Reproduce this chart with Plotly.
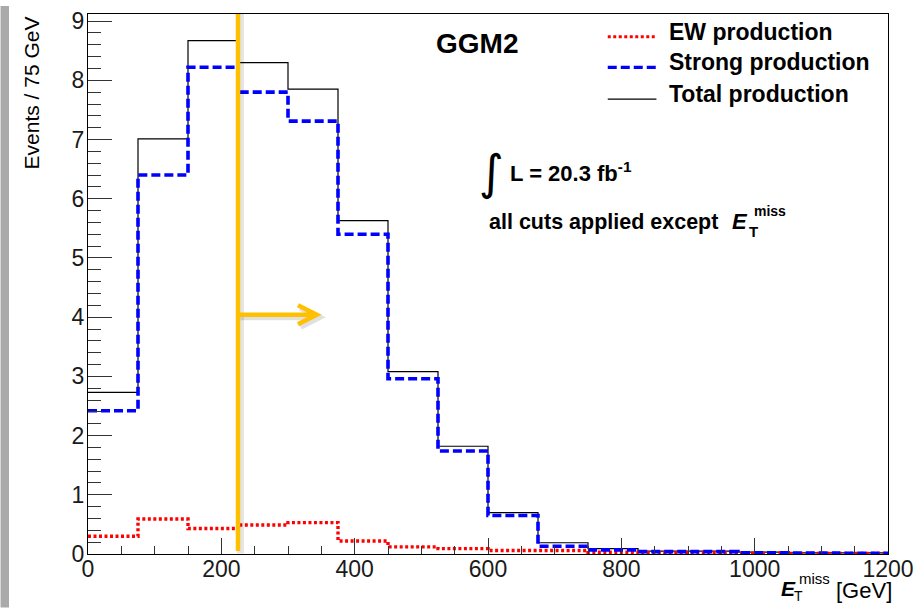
import plotly.graph_objects as go

# Histogram binning: 75 GeV bins from 0 to 1200 GeV
bin_edges = [0, 75, 150, 225, 300, 375, 450, 525, 600, 675, 750, 825, 900, 975, 1050, 1125, 1200]

# Expected events per bin (GGM2 signal point)
ew_production = [0.30, 0.59, 0.43, 0.49, 0.53, 0.22, 0.12, 0.09, 0.06, 0.06, 0.03, 0.02, 0.02, 0.015, 0.01, 0.01]
strong_production = [2.42, 6.40, 8.22, 7.80, 7.31, 5.40, 2.96, 1.74, 0.65, 0.13, 0.07, 0.04, 0.04, 0.02, 0.015, 0.01]
total_production = [2.73, 7.01, 8.67, 8.30, 7.85, 5.63, 3.08, 1.82, 0.70, 0.19, 0.09, 0.05, 0.05, 0.03, 0.02, 0.02]

x_ticks = [0, 200, 400, 600, 800, 1000, 1200]
y_ticks = [0, 1, 2, 3, 4, 5, 6, 7, 8, 9]

# E_T^miss cut position and arrow end (GeV), arrow height (events)
cut_value = 225
arrow_end = 343
arrow_level = 4.04

FONT = "Liberation Sans, Arial, Helvetica, sans-serif"

# Plot-area geometry in pixels (922 x 608 canvas)
W, H = 922, 608
L, R, T, B = 88, 893, 8, 554


def px_x(p):
    return (p - L) / (R - L)


def px_y(p):
    return (B - p) / (B - T)


def steps(values):
    return bin_edges, list(values) + [values[-1]]


fig = go.Figure()

for name, vals, color, width, dash in [
    ("Total production", total_production, "black", 1.2, "solid"),
    ("EW production", ew_production, "#ff0000", 3.4, "3px,2.5px"),
    ("Strong production", strong_production, "#0000ff", 3.6, "9px,4px"),
]:
    xs, ys = steps(vals)
    fig.add_trace(go.Scatter(
        x=xs, y=ys, mode="lines", name=name,
        line=dict(color=color, width=width, dash=dash, shape="hv"),
        showlegend=False, hoverinfo="skip",
    ))

shapes = []

# grey strip along the left edge of the canvas
shapes.append(dict(type="rect", xref="paper", yref="paper",
                   x0=px_x(0), x1=px_x(8.5), y0=px_y(H), y1=px_y(0),
                   fillcolor="#aaaaaa", line=dict(width=0), layer="above"))

# soft shadow of the cut marker
sh_dx = 2.5 * 1200 / (R - L)
sh_dy = 2.5 * 9.12 / (B - T)
shapes.append(dict(type="line", x0=cut_value + sh_dx, x1=cut_value + sh_dx,
                   y0=0.05 - sh_dy, y1=9.12, line=dict(color="rgba(0,0,0,0.10)", width=7)))
shapes.append(dict(type="path",
                   path=f"M {cut_value + sh_dx},{arrow_level - sh_dy} L {arrow_end + sh_dx},{arrow_level - sh_dy} "
                        f"M {arrow_end - 28 + sh_dx},{arrow_level + 0.16 - sh_dy} L {arrow_end + sh_dx},{arrow_level - sh_dy} "
                        f"L {arrow_end - 28 + sh_dx},{arrow_level - 0.16 - sh_dy}",
                   line=dict(color="rgba(0,0,0,0.12)", width=6)))

# cut marker: vertical line and arrow
shapes.append(dict(type="line", x0=cut_value, x1=cut_value, y0=0.05, y1=9.12,
                   line=dict(color="#ffc000", width=4.5)))
shapes.append(dict(type="path",
                   path=f"M {cut_value},{arrow_level} L {arrow_end},{arrow_level} "
                        f"M {arrow_end - 28},{arrow_level + 0.16} L {arrow_end},{arrow_level} "
                        f"L {arrow_end - 28},{arrow_level - 0.16}",
                   line=dict(color="#ffc000", width=4.5)))

# legend symbols
legend_rows = [
    ("EW production", "#ff0000", 3.2, "3px,2.5px", 31),
    ("Strong production", "#0000ff", 3.4, "9px,4px", 62),
    ("Total production", "black", 1.2, "solid", 94),
]
for label, color, width, dash, yp in legend_rows:
    shapes.append(dict(type="line", xref="paper", yref="paper",
                       x0=px_x(611), x1=px_x(660), y0=px_y(yp), y1=px_y(yp),
                       line=dict(color=color, width=width, dash=dash)))

# text boxes sit a little low when middle-anchored; lift them to the glyph centre
LIFT = 4

annotations = []
for label, color, width, dash, yp in legend_rows:
    annotations.append(dict(xref="paper", yref="paper", x=px_x(671), y=px_y(yp - LIFT - 1),
                            xanchor="left", yanchor="middle", showarrow=False,
                            text=f"<b>{label}</b>", font=dict(family=FONT, size=23, color="black")))

annotations += [
    dict(xref="paper", yref="paper", x=px_x(479), y=px_y(43 - LIFT - 1), xanchor="center", yanchor="middle",
         showarrow=False, text="<b>GGM2</b>", font=dict(family=FONT, size=28, color="black")),
    dict(xref="paper", yref="paper", x=px_x(494), y=px_y(172 - LIFT), xanchor="center", yanchor="middle",
         showarrow=False, text="∫", font=dict(family="DejaVu Sans", size=48, color="black")),
    dict(xref="paper", yref="paper", x=px_x(511), y=px_y(172 - LIFT), xanchor="left", yanchor="middle",
         showarrow=False, text="<b>L = 20.3 fb<sup>-1</sup></b>", font=dict(family=FONT, size=22, color="black")),
    dict(xref="paper", yref="paper", x=px_x(489), y=px_y(222 - LIFT), xanchor="left", yanchor="middle",
         showarrow=False, text="<b>all cuts applied except</b>", font=dict(family=FONT, size=21.5, color="black")),
    dict(xref="paper", yref="paper", x=px_x(734), y=px_y(222 - LIFT), xanchor="left", yanchor="middle",
         showarrow=False, text="<b><i>E</i></b>", font=dict(family=FONT, size=22, color="black")),
    dict(xref="paper", yref="paper", x=px_x(756), y=px_y(211 - LIFT), xanchor="left", yanchor="middle",
         showarrow=False, text="<b>miss</b>", font=dict(family=FONT, size=14, color="black")),
    dict(xref="paper", yref="paper", x=px_x(751), y=px_y(232 - LIFT), xanchor="left", yanchor="middle",
         showarrow=False, text="<b>T</b>", font=dict(family=FONT, size=15, color="black")),
    # axis titles
    dict(xref="paper", yref="paper", x=px_x(31), y=px_y(88), xanchor="center", yanchor="middle",
         textangle=-90, showarrow=False, text="Events / 75 GeV",
         font=dict(family=FONT, size=21, color="black")),
    dict(xref="paper", yref="paper", x=px_x(899), y=px_y(595 - LIFT), xanchor="right", yanchor="middle",
         showarrow=False, text="[GeV]", font=dict(family=FONT, size=22, color="black")),
    dict(xref="paper", yref="paper", x=px_x(783), y=px_y(593 - LIFT), xanchor="left", yanchor="middle",
         showarrow=False, text="<b><i>E</i></b>", font=dict(family=FONT, size=21, color="black")),
    dict(xref="paper", yref="paper", x=px_x(801), y=px_y(583 - LIFT), xanchor="left", yanchor="middle",
         showarrow=False, text="miss", font=dict(family=FONT, size=15, color="black")),
    dict(xref="paper", yref="paper", x=px_x(796), y=px_y(600 - LIFT), xanchor="left", yanchor="middle",
         showarrow=False, text="T", font=dict(family=FONT, size=14, color="black")),
]

axis_common = dict(
    showline=True, linecolor="black", linewidth=1, mirror=True,
    showgrid=False, zeroline=False, ticks="inside", tickcolor="#333333", tickwidth=1,
    tickfont=dict(family=FONT, size=23, color="#1a1a1a"),
)

fig.update_layout(
    width=W, height=H,
    margin=dict(l=L, r=W - R, t=T, b=H - B, pad=0),
    paper_bgcolor="white", plot_bgcolor="white",
    xaxis=dict(range=[0, 1200], tickvals=x_ticks, ticklen=16, ticklabelstandoff=-6,
               minor=dict(dtick=50, ticks="inside", ticklen=8, tickcolor="#333333", showgrid=False),
               **axis_common),
    yaxis=dict(range=[0, 9.12], tickvals=y_ticks, ticklen=24, ticklabelstandoff=-2,
               minor=dict(dtick=0.2, ticks="inside", ticklen=13, tickcolor="#333333", showgrid=False),
               **axis_common),
    shapes=shapes,
    annotations=annotations,
    showlegend=False,
)

fig.write_html("out.html")
